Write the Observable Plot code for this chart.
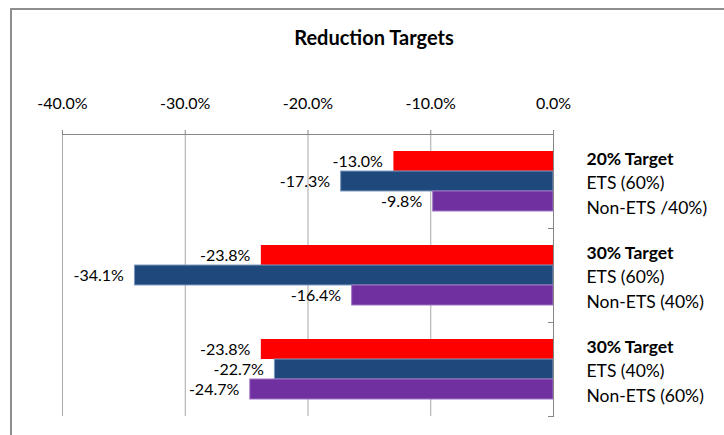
<!DOCTYPE html>
<html><head><meta charset="utf-8">
<script src="https://cdn.jsdelivr.net/npm/d3@7"></script>
<script src="https://cdn.jsdelivr.net/npm/@observablehq/plot@0.6"></script>
<style>
body{margin:0;background:#fff;}
#wrap{position:relative;width:724px;height:435px;overflow:hidden;background:#fff;font-family:Lato,sans-serif;color:#000;}
#border{position:absolute;left:10px;top:8px;width:2000px;height:2000px;border:2px solid #8e8e8e;}
#title{position:absolute;left:0;width:748px;top:25px;text-align:center;font-weight:bold;font-size:20px;}
#chart{position:absolute;left:0;top:0;}
</style></head><body>
<div id="wrap"><div id="border"></div><div id="title">Reduction Targets</div><div id="chart"></div></div>
<script>
const groupTitles = ["20% Target", "30% Target", "30% Target"];
const etsLabels = ["ETS (60%)", "ETS (60%)", "ETS (40%)"];
const nonEtsLabels = ["Non-ETS /40%)", "Non-ETS (40%)", "Non-ETS (60%)"];
const seriesNames = ["Total", "ETS", "Non-ETS"];
const totalValues = [-13.0, -23.8, -23.8];
const etsValues = [-17.3, -34.1, -22.7];
const nonEtsValues = [-9.8, -16.4, -24.7];
const xTicks = [-40, -30, -20, -10, 0];
const gridTicks = [-40, -30, -20, -10];

const seriesValues = [totalValues, etsValues, nonEtsValues];
const seriesFill = ["#FF0000", "#1F497D", "#7030A0"];
const seriesStroke = ["none", "#7f9bc0", "#9f72c4"];

const groups = groupTitles.map((t, i) => ({group: i, title: t, ets: etsLabels[i], nonEts: nonEtsLabels[i]}));
const rows = [];
seriesNames.forEach((s, j) => seriesValues[j].forEach((v, i) => rows.push({group: i, series: s, value: v, j})));

const W = 724, H = 435, mL = 62, mR = 171, mT = 133, mB = 19;
const plotW = W - mL - mR;
const fmt = d => d.toFixed(1) + "%";

const chart = Plot.plot({
  width: W, height: H,
  marginLeft: mL, marginRight: mR, marginTop: mT, marginBottom: mB,
  style: {fontFamily: "Lato, sans-serif", fontSize: "16px", color: "#000", background: "transparent", overflow: "visible"},
  x: {domain: [-40, 0], label: null},
  y: {domain: seriesNames, paddingInner: 0, paddingOuter: 0.76, axis: null, label: null},
  fy: {domain: [0, 1, 2], padding: 0, axis: null, label: null},
  marks: [
    Plot.gridX(gridTicks, {stroke: "#a8a8a8", strokeOpacity: 1}),
    Plot.frame({anchor: "top", facet: "super", stroke: "#868686"}),
    Plot.axisX({anchor: "top", ticks: xTicks, tickFormat: fmt, tickSize: 5, tickPadding: 21, stroke: "#868686", fill: "#000", fontSize: 16, label: null}),
    ...seriesNames.map((s, j) => Plot.barX(rows.filter(r => r.j === j), {
      fy: "group", y: "series", x1: 0, x2: "value",
      fill: seriesFill[j], stroke: seriesStroke[j], strokeWidth: 1
    })),
    Plot.ruleX([0], {stroke: "#868686"}),
    Plot.frame({anchor: "bottom", insetLeft: plotW - 5, stroke: "#868686"}),
    Plot.text(rows, {fy: "group", y: "series", x: "value", text: d => fmt(d.value), textAnchor: "end", dx: -11, fontSize: 16, fill: "#000"}),
    Plot.text(groups, {fy: "group", y: () => "ETS", x: () => 0, text: "title", textAnchor: "start", dx: 33, dy: -22, fontWeight: "bold", fontSize: 17.5, fill: "#000"}),
    Plot.text(groups, {fy: "group", y: () => "ETS", x: () => 0, text: "ets", textAnchor: "start", dx: 33, dy: 2, fontSize: 17.5, fill: "#000"}),
    Plot.text(groups, {fy: "group", y: () => "ETS", x: () => 0, text: "nonEts", textAnchor: "start", dx: 33, dy: 26.5, fontSize: 17.5, fill: "#000"})
  ]
});
document.getElementById("chart").appendChild(chart);
</script>
</body></html>
